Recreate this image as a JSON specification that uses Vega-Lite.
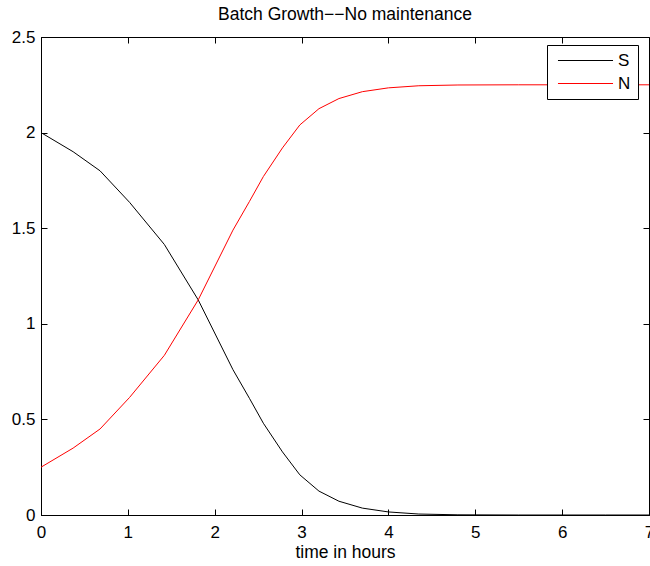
{
  "$schema": "https://vega.github.io/schema/vega-lite/v6.json",
  "width": 608,
  "height": 478,
  "autosize": {"type": "none"},
  "padding": {"left": 41, "top": 37, "right": 1, "bottom": 51},
  "background": "white",
  "config": {
    "font": "Liberation Sans",
    "view": {"stroke": "black", "strokeWidth": 1},
    "axis": {"grid": false, "domainColor": "black", "tickColor": "black", "labelColor": "black", "titleColor": "black", "labelFont": "Liberation Sans", "titleFont": "Liberation Sans", "labelFontSize": 17, "titleFontSize": 17.5, "titleFontWeight": "normal"}
  },
  "title": {"text": "Batch Growth−−No maintenance", "fontSize": 17.5, "fontWeight": "normal", "font": "Liberation Sans", "color": "black", "offset": 5},
  "data": {"values": [
    {"t": 0, "v": 2.0, "s": "S"},
    {"t": 0.37, "v": 1.9, "s": "S"},
    {"t": 0.68, "v": 1.8, "s": "S"},
    {"t": 1.02, "v": 1.635, "s": "S"},
    {"t": 1.42, "v": 1.415, "s": "S"},
    {"t": 1.81, "v": 1.125, "s": "S"},
    {"t": 2.21, "v": 0.76, "s": "S"},
    {"t": 2.4, "v": 0.61, "s": "S"},
    {"t": 2.56, "v": 0.48, "s": "S"},
    {"t": 2.78, "v": 0.33, "s": "S"},
    {"t": 2.98, "v": 0.21, "s": "S"},
    {"t": 3.2, "v": 0.125, "s": "S"},
    {"t": 3.43, "v": 0.072, "s": "S"},
    {"t": 3.7, "v": 0.036, "s": "S"},
    {"t": 4.0, "v": 0.016, "s": "S"},
    {"t": 4.35, "v": 0.005, "s": "S"},
    {"t": 4.8, "v": 0.001, "s": "S"},
    {"t": 5.5, "v": 0.0, "s": "S"},
    {"t": 6.5, "v": 0.0, "s": "S"},
    {"t": 7.0, "v": 0.0, "s": "S"},
    {"t": 0, "v": 0.25, "s": "N"},
    {"t": 0.37, "v": 0.35, "s": "N"},
    {"t": 0.68, "v": 0.45, "s": "N"},
    {"t": 1.02, "v": 0.615, "s": "N"},
    {"t": 1.42, "v": 0.835, "s": "N"},
    {"t": 1.81, "v": 1.125, "s": "N"},
    {"t": 2.21, "v": 1.49, "s": "N"},
    {"t": 2.4, "v": 1.64, "s": "N"},
    {"t": 2.56, "v": 1.77, "s": "N"},
    {"t": 2.78, "v": 1.92, "s": "N"},
    {"t": 2.98, "v": 2.04, "s": "N"},
    {"t": 3.2, "v": 2.125, "s": "N"},
    {"t": 3.43, "v": 2.178, "s": "N"},
    {"t": 3.7, "v": 2.214, "s": "N"},
    {"t": 4.0, "v": 2.234, "s": "N"},
    {"t": 4.35, "v": 2.245, "s": "N"},
    {"t": 4.8, "v": 2.249, "s": "N"},
    {"t": 5.5, "v": 2.25, "s": "N"},
    {"t": 6.5, "v": 2.25, "s": "N"},
    {"t": 7.0, "v": 2.25, "s": "N"}
  ]},
  "layer": [
    {
      "mark": {"type": "line", "strokeWidth": 1, "clip": true},
      "encoding": {
        "x": {"field": "t", "type": "quantitative", "scale": {"domain": [0, 7], "nice": false, "zero": false},
              "axis": {"orient": "bottom", "title": "time in hours", "values": [0,1,2,3,4,5,6,7], "tickSize": -6, "labelPadding": 15, "titlePadding": 3, "labelFlush": false}},
        "y": {"field": "v", "type": "quantitative", "scale": {"domain": [0, 2.5], "nice": false},
              "axis": {"orient": "left", "title": null, "values": [0,0.5,1,1.5,2,2.5], "format": "~g", "tickSize": -6, "labelPadding": 12, "labelFlush": false}},
        "color": {"field": "s", "type": "nominal",
                  "scale": {"domain": ["S", "N"], "range": ["black", "#ff0000"]},
                  "legend": {"title": null, "orient": "none", "legendX": 506, "legendY": 8, "symbolType": "M-3.44,0H3.44", "symbolSize": 256, "symbolOffset": 23, "symbolStrokeWidth": 1, "labelFontSize": 17, "labelFont": "Liberation Sans", "labelColor": "black", "strokeColor": "black", "fillColor": "white", "padding": 7, "rowPadding": 5, "labelOffset": 24}},
        "detail": {"field": "s"}
      }
    },
    {
      "mark": {"type": "line", "opacity": 0},
      "encoding": {
        "x": {"field": "t", "type": "quantitative", "scale": {"domain": [0, 7], "nice": false, "zero": false},
              "axis": {"orient": "top", "title": null, "values": [0,1,2,3,4,5,6,7], "tickSize": -6, "labels": false, "domain": false}},
        "y": {"field": "v", "type": "quantitative", "scale": {"domain": [0, 2.5], "nice": false},
              "axis": {"orient": "right", "title": null, "values": [0,0.5,1,1.5,2,2.5], "tickSize": -6, "labels": false, "domain": false}}
      }
    }
  ],
  "resolve": {"axis": {"x": "independent", "y": "independent"}}
}
